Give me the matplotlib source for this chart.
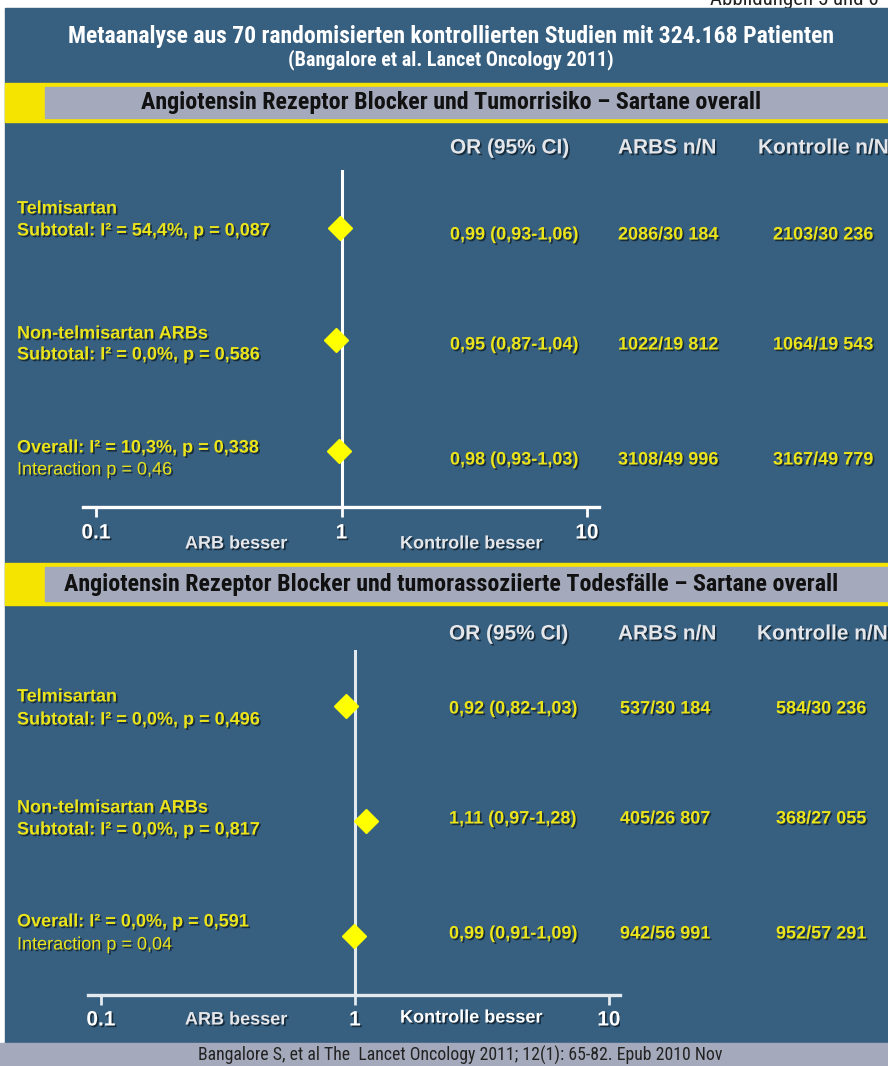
import matplotlib
matplotlib.use("Agg")
import matplotlib.pyplot as plt
import matplotlib.patheffects as pe
from matplotlib.patches import Rectangle
from matplotlib.transforms import Bbox, TransformedBbox, blended_transform_factory

# ---- data ----
row_labels = [
    ("Telmisartan", "Subtotal: I² = 54,4%, p = 0,087"),
    ("Non-telmisartan ARBs", "Subtotal: I² = 0,0%, p = 0,586"),
    ("Overall: I² = 10,3%, p = 0,338", "Interaction p = 0,46"),
]
risk_or = [0.99, 0.95, 0.98]
risk_lo = [0.93, 0.87, 0.93]
risk_hi = [1.06, 1.04, 1.03]
risk_arb = ["2086/30 184", "1022/19 812", "3108/49 996"]
risk_ctrl = ["2103/30 236", "1064/19 543", "3167/49 779"]

death_labels = [
    ("Telmisartan", "Subtotal: I² = 0,0%, p = 0,496"),
    ("Non-telmisartan ARBs", "Subtotal: I² = 0,0%, p = 0,817"),
    ("Overall: I² = 0,0%, p = 0,591", "Interaction p = 0,04"),
]
death_or = [0.92, 1.11, 0.99]
death_lo = [0.82, 0.97, 0.91]
death_hi = [1.03, 1.28, 1.09]
death_arb = ["537/30 184", "405/26 807", "942/56 991"]
death_ctrl = ["584/30 236", "368/27 055", "952/57 291"]

tick_vals = [0.1, 1, 10]
tick_text = ["0.1", "1", "10"]
headers = ["OR (95% CI)", "ARBS n/N", "Kontrolle n/N"]

BLUE = "#365f80"
YELLOW = "#f4e400"
GREY = "#a4aabb"
TXT_Y = "#ece41a"
TXT_W = "#e4e6ea"
SANS = ["Liberation Sans", "DejaVu Sans"]
NARROW = ["Roboto Condensed", "DejaVu Sans"]

W, H = 888, 1066
fig = plt.figure(figsize=(W / 100, H / 100), dpi=100)
bg = fig.add_axes([0, 0, 1, 1])
bg.set_xlim(0, W)
bg.set_ylim(H, 0)
bg.axis("off")

shadow = [pe.SimplePatchShadow(offset=(1.2, -1.2), shadow_rgbFace="#10202c", alpha=0.8), pe.Normal()]


def fmt(v):
    return f"{v:.2f}".replace(".", ",")


# backgrounds
bg.add_patch(Rectangle((5, 8), W - 5, 1035, color=BLUE, zorder=0))
bg.add_patch(Rectangle((0, 1043), W, H - 1043, color=GREY, zorder=0))
for top, bot in [(83, 122), (563, 605)]:
    bg.add_patch(Rectangle((5, top), W - 5, bot - top, color=YELLOW, zorder=1))
    bg.add_patch(Rectangle((45, top + 4), W - 45, bot - top - 8, color=GREY, zorder=2))

nk = dict(family=NARROW)
# page caption, cut off by the top edge as in the source slide
bg.text(710, 5, "Abbildungen 5 und 6", fontsize=15, color="#222222", ha="left",
        va="baseline", zorder=-1, **nk)
bg.text(451, 36, "Metaanalyse aus 70 randomisierten kontrollierten Studien mit 324.168 Patienten",
        weight="bold", fontsize=17, color="white", ha="center", va="center", **nk)
bg.text(451, 60, "(Bangalore et al. Lancet Oncology 2011)", weight="bold",
        fontsize=14.5, color="white", ha="center", va="center", **nk)
bg.text(451, 103, "Angiotensin Rezeptor Blocker und Tumorrisiko – Sartane overall",
        weight="bold", fontsize=17.3, color="#111111", ha="center", va="center", zorder=3, **nk)
bg.text(451, 585, "Angiotensin Rezeptor Blocker und tumorassoziierte Todesfälle – Sartane overall",
        weight="bold", fontsize=17.3, color="#111111", ha="center", va="center", zorder=3, **nk)
bg.text(460, 1055, "Bangalore S, et al The  Lancet Oncology 2011; 12(1): 65-82. Epub 2010 Nov",
        fontsize=12.8, color="#222222", ha="center", va="center", **nk)

panels = [
    dict(labels=row_labels, orv=risk_or, lo=risk_lo, hi=risk_hi, arb=risk_arb, ctrl=risk_ctrl,
         ax_px=(83, 599, 170, 507), xlim=(0.0885, 11.19), ylim=(2.5, -0.52),
         head_y=148, head_x=(450, 618, 758), lab_y=((209, 231), (334, 355), (448, 470)),
         val_y=(235, 345, 460), val_x=(450, 618, 773), tick_y=533, side_y=(544, 544),
         line_c="white", ctrl_c=TXT_W, clip_x=None),
    dict(labels=death_labels, orv=death_or, lo=death_lo, hi=death_hi, arb=death_arb, ctrl=death_ctrl,
         ax_px=(88, 620, 650, 995), xlim=(0.0889, 11.05), ylim=(2.51, -0.49),
         head_y=634, head_x=(449, 618, 757), lab_y=((697, 720), (808, 830), (922, 945)),
         val_y=(709, 819, 934), val_x=(449, 620, 776), tick_y=1020, side_y=(1020, 1018),
         line_c="#e2eaf0", ctrl_c="white", clip_x=620),
]

for p in panels:
    x0, x1, y0, y1 = p["ax_px"]
    ax = fig.add_axes([x0 / W, 1 - y1 / H, (x1 - x0) / W, (y1 - y0) / H])
    ax.patch.set_alpha(0)
    ax.set_xscale("log")
    ax.set_xlim(*p["xlim"])
    ax.set_ylim(*p["ylim"])
    for s in ["top", "right", "left"]:
        ax.spines[s].set_visible(False)
    ax.spines["bottom"].set_color(p["line_c"])
    ax.spines["bottom"].set_linewidth(2.4)
    ax.set_yticks([])
    ax.set_xticks(tick_vals)
    ax.set_xticks([], minor=True)
    ax.tick_params(axis="x", direction="out", length=7, width=2, color=p["line_c"], labelbottom=False)
    ax.axvline(1, color=p["line_c"], lw=2.2, zorder=2)
    rows = list(range(len(p["orv"])))
    ax.plot(p["orv"], rows, linestyle="none", marker="D", markersize=12,
            color="#ffff00", markeredgecolor="#ffff00", zorder=3, clip_on=False)

    tr = blended_transform_factory(ax.transData, bg.transData)
    clip = None
    if p["clip_x"]:
        clip = TransformedBbox(Bbox([[0, 0], [p["clip_x"], H]]), bg.transData)
    for v, t in zip(tick_vals, tick_text):
        txt = ax.text(v, p["tick_y"], t, transform=tr, family=SANS, weight="bold", fontsize=15,
                      color="white", ha="center", va="center", path_effects=shadow)
        if clip is not None:
            txt.set_clip_box(clip)
            txt.set_clip_on(True)

    bg.text(236, p["side_y"][0], "ARB besser", family=SANS, weight="bold", fontsize=13,
            color=TXT_W, ha="center", va="center", path_effects=shadow)
    bg.text(471, p["side_y"][1], "Kontrolle besser", family=SANS, weight="bold", fontsize=13,
            color=p["ctrl_c"], ha="center", va="center", path_effects=shadow)

    for hx, h in zip(p["head_x"], headers):
        bg.text(hx, p["head_y"], h, family=SANS, weight="bold", fontsize=15, color=TXT_W,
                ha="left", va="center", path_effects=shadow)

    for i, (l1, l2) in enumerate(p["labels"]):
        ya, yb = p["lab_y"][i]
        bg.text(17, ya, l1, family=SANS, weight="bold", fontsize=13, color=TXT_Y,
                ha="left", va="center", path_effects=shadow)
        w2 = "normal" if l2.startswith("Interaction") else "bold"
        bg.text(17, yb, l2, family=SANS, weight=w2, fontsize=13, color=TXT_Y,
                ha="left", va="center", path_effects=shadow)
        vy = p["val_y"][i]
        ci = f"{fmt(p['orv'][i])} ({fmt(p['lo'][i])}-{fmt(p['hi'][i])})"
        for vx, s in zip(p["val_x"], [ci, p["arb"][i], p["ctrl"][i]]):
            bg.text(vx, vy, s, family=SANS, weight="bold", fontsize=13, color=TXT_Y,
                    ha="left", va="center", path_effects=shadow)

fig.savefig("out.png", dpi=100)
